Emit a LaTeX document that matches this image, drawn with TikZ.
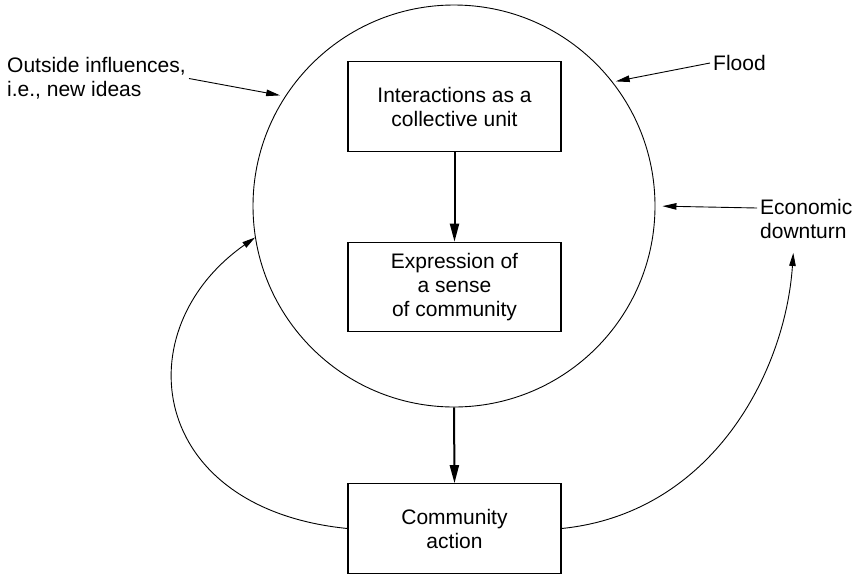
\documentclass[tikz,border=0pt]{standalone}
\usepackage{fontspec}
\setmainfont{Liberation Sans}
\usetikzlibrary{arrows.meta}

\begin{document}
\begin{tikzpicture}[x=1pt,y=-1pt,
  every node/.style={font=\fontsize{21}{24}\selectfont},
  stage/.style={draw, line width=1.1pt, minimum width=213pt, minimum height=89.5pt,
                inner sep=0pt, align=center},
  label/.style={inner sep=3pt, align=left},
  flow/.style={line width=2pt, -{Triangle[length=18pt,width=9pt]}},
  push/.style={line width=0.9pt, -{Triangle[length=14pt,width=6.5pt]}},
  loop/.style={line width=0.9pt, -{Triangle[length=13pt,width=6.5pt]}}]

  \useasboundingbox (0,0) rectangle (859,574);

  % the community as a whole
  \node[circle, draw, line width=0.9pt, minimum size=402pt, inner sep=0pt] (comm) at (454,206) {};

  % stages inside and below the circle
  \node[stage] (inter) at (454.5,106.5) {Interactions as a\\collective unit};
  \node[stage] (expr)  at (454.5,287)   {Expression of\\a sense\\of community};
  \node[stage] (act)   at (454.5,528.5) {Community\\action};

  % outside forces
  \node[label, anchor=west] (outside) at (4,78.5) {Outside influences,\\i.e., new ideas};
  \node[label, anchor=west] (flood)   at (710,63) {Flood};
  \node[label, anchor=west] (econ)    at (757,219) {Economic\\downturn};

  % main flow
  \draw[flow] (inter.south) -- (expr.north);
  \draw[flow] (comm.south) -- (act.north);

  % forces acting on the community
  \draw[push, shorten >=5pt] (outside.east) -- (comm.147);
  \draw[push, shorten >=3pt] (flood.west) -- (comm.38);
  \draw[push, shorten >=7pt] ([yshift=11pt]econ.west) -- (comm.east);

  % feedback loops from community action
  \coordinate (econtip) at ([xshift=-13pt,yshift=-11pt]econ.south);
  \draw[loop] (act.west) .. controls +(-200,-20) and +(-131,92) .. (comm.189);
  \draw[loop] (act.east) .. controls +(150,-15) and +(-8,120) .. (econtip);
\end{tikzpicture}
\end{document}
